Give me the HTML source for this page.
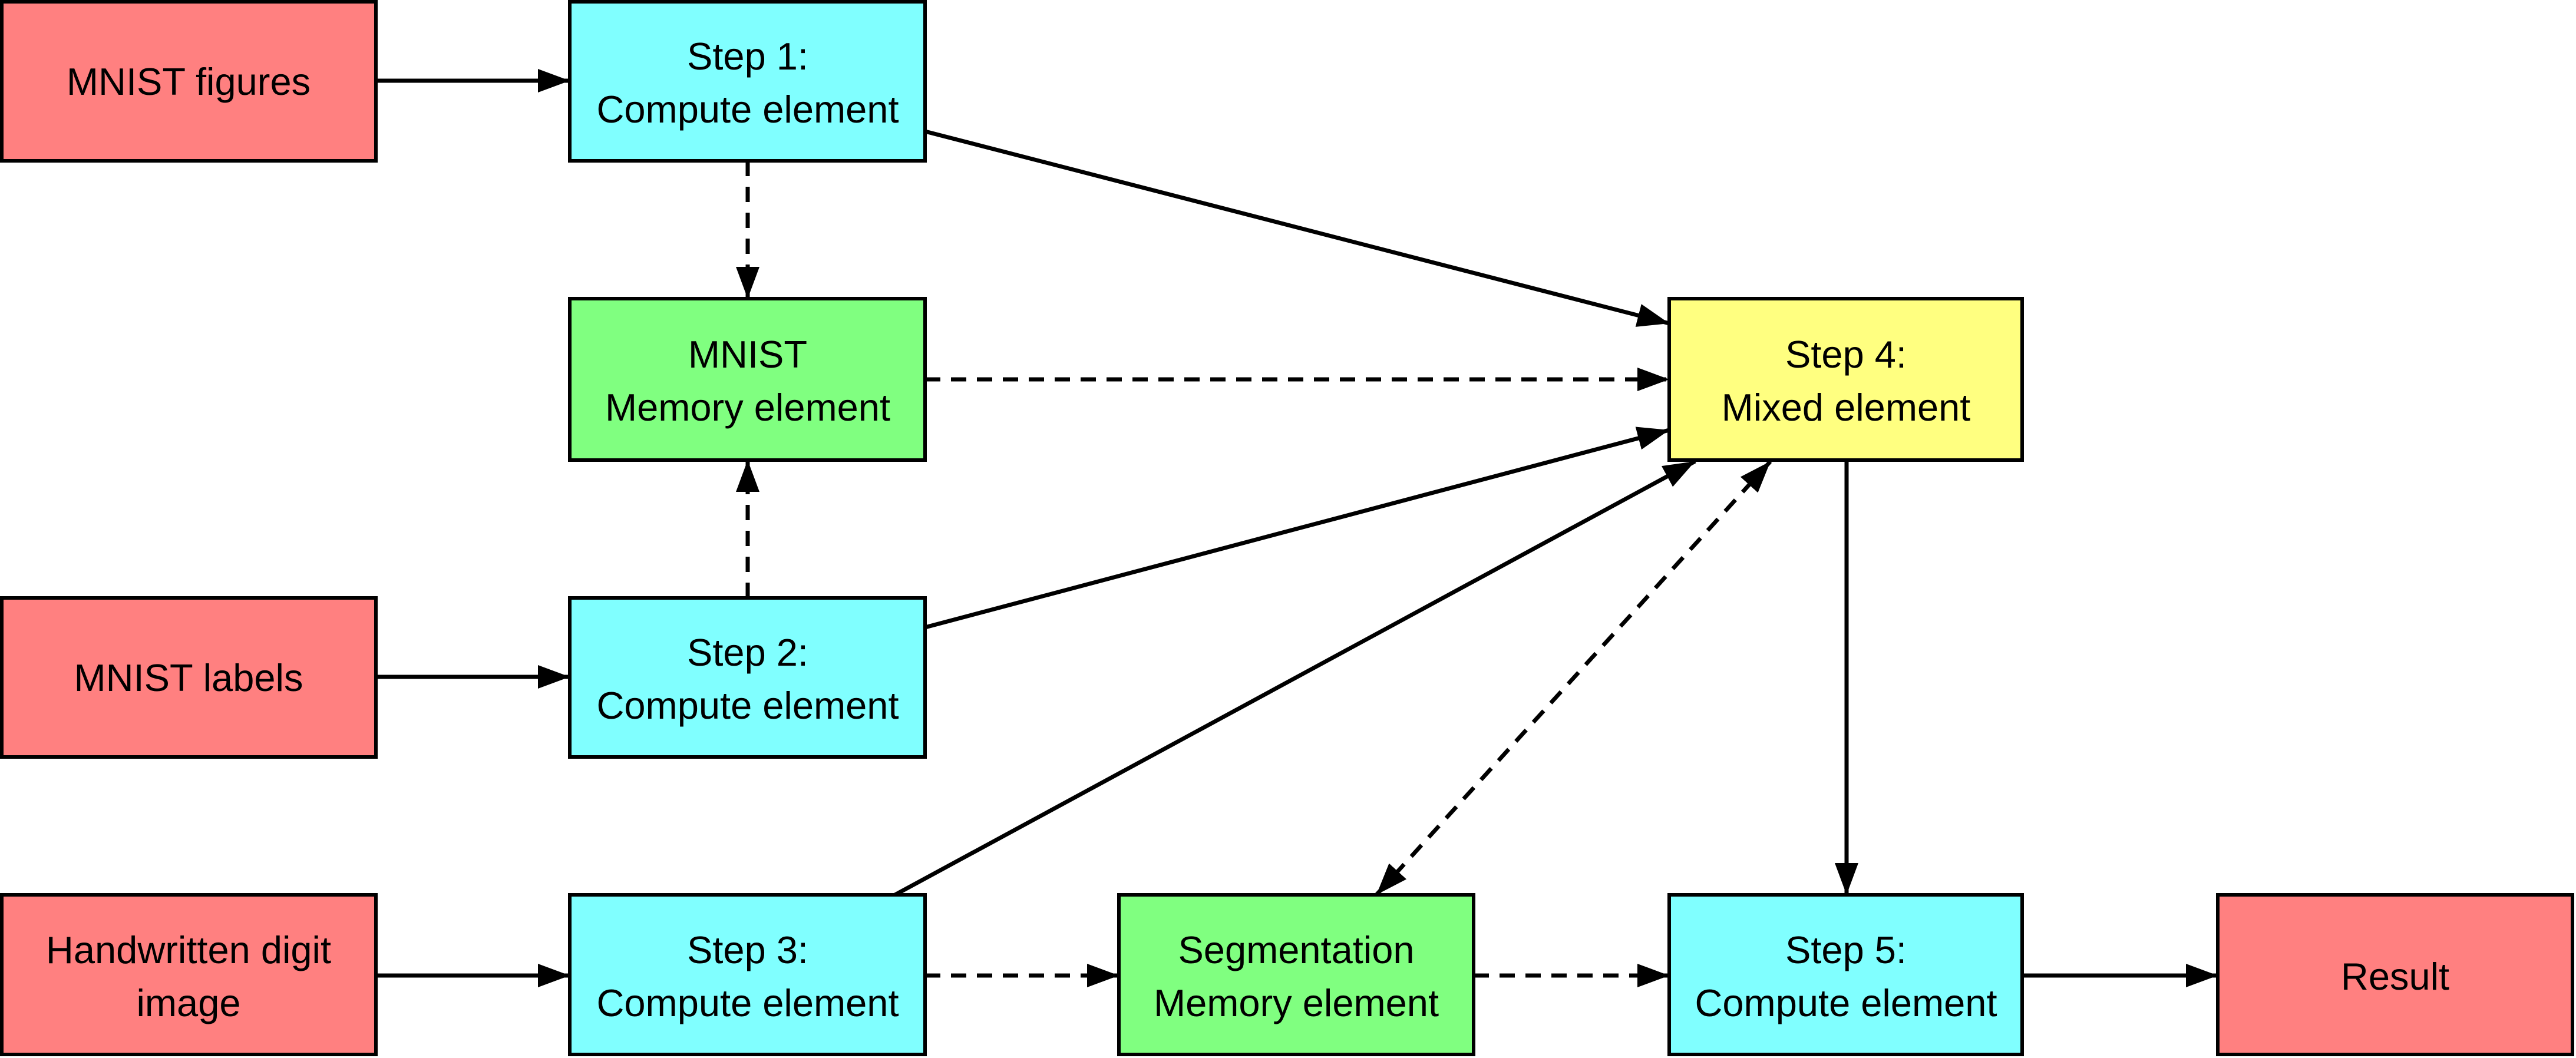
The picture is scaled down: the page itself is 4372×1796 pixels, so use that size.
<!DOCTYPE html>
<html><head><meta charset="utf-8"><style>
html,body{margin:0;padding:0;background:#fff}
svg{display:block}
text{font-family:"Liberation Sans",Arial,sans-serif;font-size:65px;fill:#000;text-anchor:middle}
</style></head><body>
<svg width="4372" height="1796" viewBox="0 0 4372 1796" xmlns="http://www.w3.org/2000/svg">
<defs>
<marker id="a" markerUnits="userSpaceOnUse" markerWidth="60" markerHeight="50" refX="54" refY="20" orient="auto">
<path d="M0,0 L54,20 L0,40 Z" fill="#000"/></marker>
<marker id="s" markerUnits="userSpaceOnUse" markerWidth="60" markerHeight="50" refX="54" refY="20" orient="auto-start-reverse">
<path d="M0,0 L54,20 L0,40 Z" fill="#000"/></marker>
</defs>
<g stroke="#000" stroke-width="6">
<rect x="3" y="3" width="635" height="270" fill="#ff8080"/>
<rect x="967" y="3" width="603" height="270" fill="#80ffff"/>
<rect x="967" y="507" width="603" height="274" fill="#80ff80"/>
<rect x="2833" y="507" width="599" height="274" fill="#ffff80"/>
<rect x="3" y="1015" width="635" height="270" fill="#ff8080"/>
<rect x="967" y="1015" width="603" height="270" fill="#80ffff"/>
<rect x="3" y="1519" width="635" height="271" fill="#ff8080"/>
<rect x="967" y="1519" width="603" height="271" fill="#80ffff"/>
<rect x="1899" y="1519" width="602" height="271" fill="#80ff80"/>
<rect x="2833" y="1519" width="599" height="271" fill="#80ffff"/>
<rect x="3764" y="1519" width="602" height="271" fill="#ff8080"/>
</g>
<g stroke="#000" stroke-width="7" fill="none" marker-end="url(#a)">
<line x1="638" y1="137" x2="967" y2="137"/>
<line x1="638" y1="1149" x2="967" y2="1149"/>
<line x1="638" y1="1656" x2="967" y2="1656"/>
<line x1="1570" y1="223" x2="2833" y2="549"/>
<line x1="1570" y1="1065" x2="2833" y2="730"/>
<line x1="1519" y1="1519" x2="2877" y2="783"/>
<line x1="3134" y1="781" x2="3134" y2="1519"/>
<line x1="3432" y1="1656" x2="3764" y2="1656"/>
</g>
<g stroke="#000" stroke-width="7" fill="none" stroke-dasharray="26 18" marker-end="url(#a)">
<line x1="1269" y1="273" x2="1269" y2="507"/>
<line x1="1269" y1="1015" x2="1269" y2="781"/>
<line x1="1570" y1="644" x2="2833" y2="644"/>
<line x1="1570" y1="1656" x2="1899" y2="1656"/>
<line x1="2501" y1="1656" x2="2833" y2="1656"/>
<line x1="2336" y1="1519" x2="3005" y2="783" marker-start="url(#s)"/>
</g>
<text x="320" y="161">MNIST figures</text>
<text x="1269" y="118">Step 1:</text><text x="1269" y="208">Compute element</text>
<text x="1269" y="624">MNIST</text><text x="1269" y="714">Memory element</text>
<text x="3133" y="624">Step 4:</text><text x="3133" y="714">Mixed element</text>
<text x="320" y="1173">MNIST labels</text>
<text x="1269" y="1130">Step 2:</text><text x="1269" y="1220">Compute element</text>
<text x="320" y="1635">Handwritten digit</text><text x="320" y="1725">image</text>
<text x="1269" y="1635">Step 3:</text><text x="1269" y="1725">Compute element</text>
<text x="2200" y="1635">Segmentation</text><text x="2200" y="1725">Memory element</text>
<text x="3133" y="1635">Step 5:</text><text x="3133" y="1725">Compute element</text>
<text x="4065" y="1680">Result</text>
</svg>
</body></html>
